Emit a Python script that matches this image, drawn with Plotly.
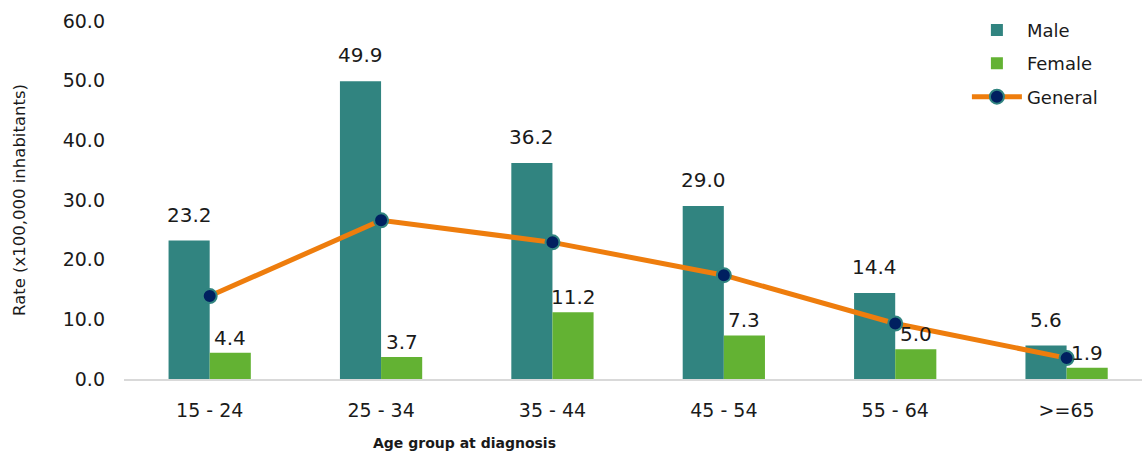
import plotly.graph_objects as go

categories = ["15 - 24", "25 - 34", "35 - 44", "45 - 54", "55 - 64", ">=65"]
male = [23.2, 49.9, 36.2, 29.0, 14.4, 5.6]
female = [4.4, 3.7, 11.2, 7.3, 5.0, 1.9]
general = [13.9, 26.6, 22.9, 17.4, 9.3, 3.5]

FONT = "DejaVu Sans"
TEAL = "#318480"
GREEN = "#63B233"
ORANGE = "#EE7D0D"
NAVY = "#002060"

xs = list(range(len(categories)))
off = 0.12

fig = go.Figure()
fig.add_bar(x=xs, y=male, name="Male", legendgroup="m",
            marker=dict(color=TEAL, line=dict(width=0)))
fig.add_bar(x=xs, y=female, name="Female", legendgroup="f",
            marker=dict(color=GREEN, line=dict(width=0)))
fig.add_scatter(x=xs, y=general, name="General", mode="lines+markers", legendgroup="g",
                line=dict(color=ORANGE, width=5),
                marker=dict(size=14, color=NAVY, line=dict(color=TEAL, width=2)))

annotations = []
for i, v in enumerate(male):
    annotations.append(dict(x=i - off, y=v, text=f"{v:.1f}", showarrow=False,
                            yanchor="bottom", yshift=12, font=dict(size=20, color="#1a1a1a", family=FONT)))
for i, v in enumerate(female):
    annotations.append(dict(x=i + off, y=v, text=f"{v:.1f}", showarrow=False,
                            yanchor="bottom", yshift=1, font=dict(size=20, color="#1a1a1a", family=FONT)))
annotations.append(dict(x=0.334, y=-0.178, xref="paper", yref="paper", yanchor="middle",
                        text="<b>Age group at diagnosis</b>", showarrow=False,
                        font=dict(size=14, color="#1a1a1a", family=FONT)))

fig.update_layout(
    width=1142, height=452,
    margin=dict(l=124, r=0, t=21, b=73),
    plot_bgcolor="white", paper_bgcolor="white",
    barmode="group", bargap=0.52, bargroupgap=0,
    font=dict(family=FONT, color="#1a1a1a"),
    showlegend=True,
    legend=dict(x=0.828, y=1.026, xanchor="left", yanchor="top",
                font=dict(size=18, family=FONT), tracegroupgap=7,
                itemwidth=50, bgcolor="rgba(0,0,0,0)"),
    annotations=annotations,
)
fig.update_xaxes(range=[-0.5, 5.44], tickvals=xs, ticktext=categories,
                 showline=True, linecolor="#d9d9d9", linewidth=2,
                 showgrid=False, zeroline=False, ticks="",
                 tickfont=dict(size=19, family=FONT), ticklabelstandoff=13)
fig.update_yaxes(range=[0, 60], dtick=10, tickformat=".1f", showgrid=False,
                 zeroline=False, showline=False, ticks="",
                 tickfont=dict(size=19, family=FONT), ticklabelstandoff=18,
                 title=dict(text="Rate (x100,000 inhabitants)", font=dict(size=16.5, family=FONT), standoff=32))

fig.write_html("out.html")
